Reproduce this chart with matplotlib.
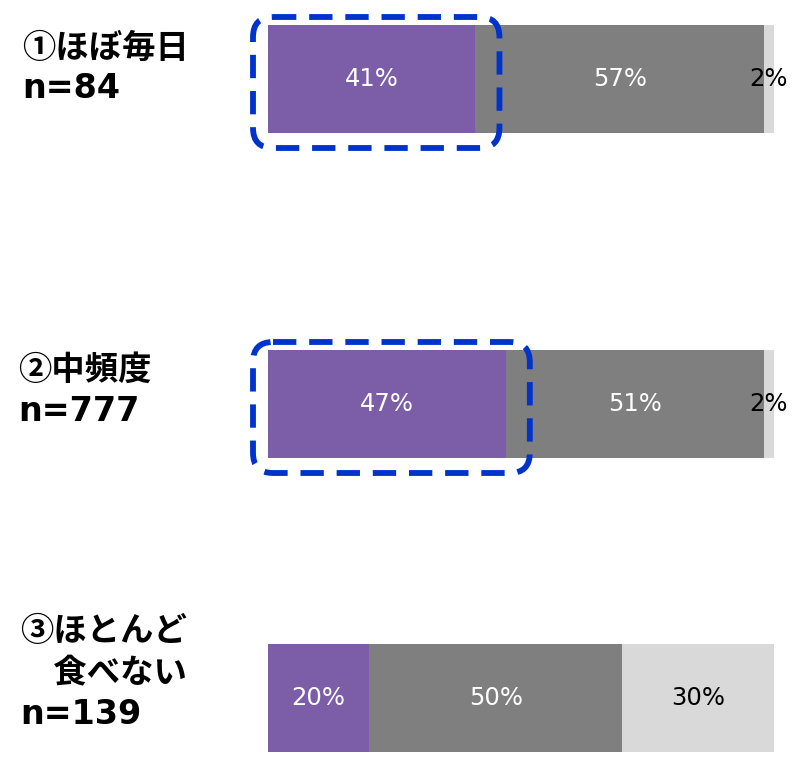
import matplotlib
matplotlib.use("Agg")
import matplotlib.pyplot as plt
from matplotlib.patches import FancyBboxPatch
import numpy as np

plt.rcParams['font.family'] = ['DejaVu Sans', 'Noto Sans CJK JP']

# data
groups = ["①ほぼ毎日\nn=84", "②中頻度\nn=777", "③ほとんど\n　食べない\nn=139"]
share_a = [41, 47, 20]
share_b = [57, 51, 50]
share_c = [2, 2, 30]
highlight = [True, True, False]

colors = ["#7B5EA7", "#7F7F7F", "#D9D9D9"]
text_colors = ["white", "white", "black"]

W, H = 795, 762
fig = plt.figure(figsize=(W / 100, H / 100), dpi=100)
fig.patch.set_facecolor("white")

# bar area in pixels: x 268..774
ax = fig.add_axes([268 / W, 0, (774 - 268) / W, 1])
ax.set_xlim(0, 100)
ax.set_ylim(H, 0)  # y in pixel rows
ax.axis("off")

ypos = [79, 404, 698]
bar_h = 108

series = [share_a, share_b, share_c]
left = np.zeros(len(groups))
for vals, col, tcol in zip(series, colors, text_colors):
    vals = np.array(vals, dtype=float)
    ax.barh(ypos, vals, left=left, height=bar_h, color=col, edgecolor="none")
    for y, l, v in zip(ypos, left, vals):
        ax.text(l + v / 2, y, f"{int(v)}%", ha="center", va="center",
                color=tcol, fontsize=17.5, family=["DejaVu Sans"])
    left += vals

# dashed highlight boxes around the first segment
px = 100 / (774 - 268)  # percent units per pixel
for y, v, hl in zip(ypos, share_a, highlight):
    if not hl:
        continue
    x0 = -15 * px
    x1 = v + 24 * px
    y0 = y - bar_h / 2 - 8
    y1 = y + bar_h / 2 + 15
    r = 20 * px
    box = FancyBboxPatch((x0, y0), x1 - x0, y1 - y0,
                         boxstyle=f"round,pad=0,rounding_size={r}",
                         mutation_aspect=1 / px,
                         fill=False, edgecolor="#0033CC", linewidth=4.2,
                         linestyle=(0, (4, 2.2)), clip_on=False, zorder=5)
    ax.add_patch(box)

# group labels on the left
label_x = [22, 18, 20]
label_top = [48, 370, 632]
for g, lx, ly in zip(groups, label_x, label_top):
    for i, line in enumerate(g.split("\n")):
        if line.startswith("n="):
            fam = ["DejaVu Sans"]
        else:
            fam = ["Noto Sans CJK JP", "DejaVu Sans"]
        fig.text(lx / W, 1 - (ly + i * 41) / H, line, ha="left", va="center",
                 fontsize=24, fontweight="bold", color="black", family=fam)

fig.savefig("out.png", dpi=100)
